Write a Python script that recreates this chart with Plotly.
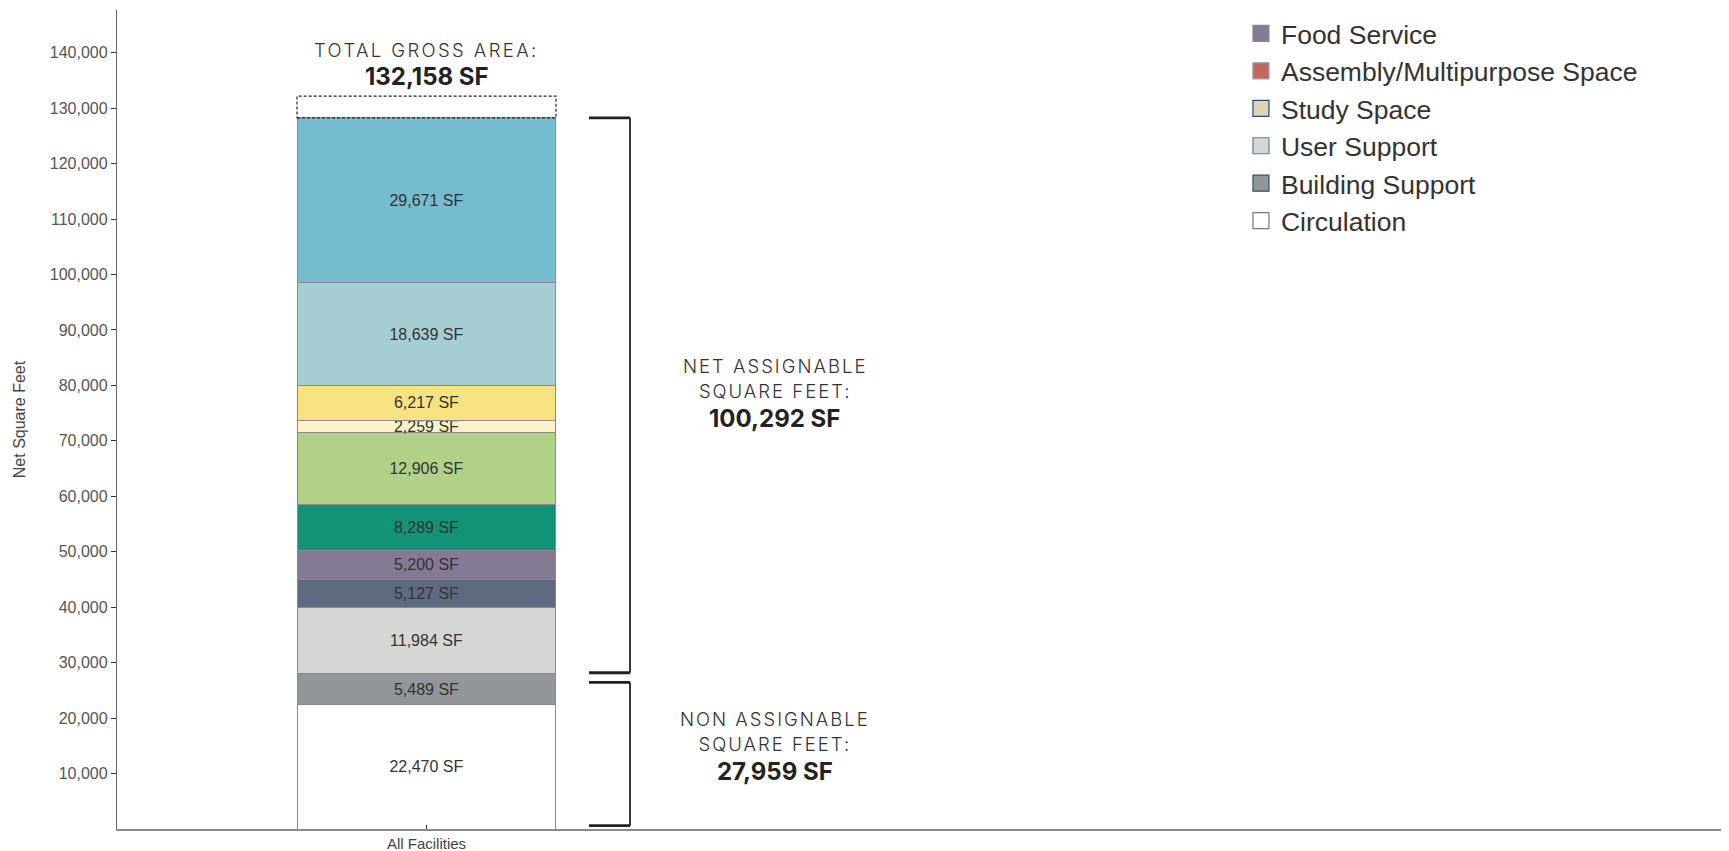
import plotly.graph_objects as go

# ---------------- data ----------------
category = ["All Facilities"]

# stacked segments, bottom to top
seg_names = ["Circulation", "Building Support", "User Support", "Meeting Space",
             "Food Service", "Student Life", "Collections", "Office Support",
             "Office Space", "Instructional Support", "Instructional Space",
             "Study Space", "Assembly/Multipurpose Space", "Athletic"]
seg_values = [22470, 5489, 11984, 5127, 5200, 8289, 12906, 2259, 6217, 18639, 29671,
              0, 0, 0]
seg_colors = ["#FFFFFF", "#939698", "#D6D6D5", "#5E6A80", "#857A93", "#129276",
              "#B1D189", "#FCF3C8", "#F7E382", "#A6CED2", "#76BCCF",
              "#E0D3B6", "#BF6860", "#F7AB4E"]
legend_borders = ["#777777", "#2E4E6E", "#5A7FA0", "#8A8A8A", "#8A8A8A", "#8A8A8A",
                  "#8A8A8A", "#8A8A8A", "#8A8A8A", "#8A8A8A", "#8A8A8A",
                  "#1F4E79", "#9A9A9A", "#9A9A9A"]
non_assignable = ["Circulation", "Building Support"]

# legend order (visible part), top to bottom
legend_order = ["Athletic", "Food Service", "Assembly/Multipurpose Space",
                "Study Space", "User Support", "Building Support", "Circulation"]

total_gross = 132158
y_ticks = list(range(10000, 140001, 10000))

# ---------------- derived ----------------
na_total = sum(v for n, v in zip(seg_names, seg_values) if n in non_assignable)
net_total = sum(v for n, v in zip(seg_names, seg_values) if n not in non_assignable)
stack_top = na_total + net_total

BAR_W = 0.8
FONT = "Liberation Sans"
ANN_FONT = "Inter"

fig = go.Figure()

for n, v, c in zip(seg_names, seg_values, seg_colors):
    fig.add_trace(go.Bar(
        x=category, y=[v], name=n, showlegend=False, legendgroup=n,
        width=BAR_W,
        marker=dict(color=c, line=dict(color="#8A8A8A", width=1 if v > 0 else 0)),
        text=[f"{v:,} SF" if v > 0 else ""],
        textposition="inside", insidetextanchor="middle", textangle=0,
        constraintext="none",
        textfont=dict(family=FONT, size=16, color="#333333"),
        hovertemplate=n + ": %{y:,} SF<extra></extra>",
    ))

# legend-only entries
for n in legend_order:
    i = seg_names.index(n)
    fig.add_trace(go.Scatter(
        x=[None], y=[None], mode="markers", name=n, legendgroup=n,
        marker=dict(symbol="square", size=16, color=seg_colors[i],
                    line=dict(color=legend_borders[i], width=1.2)),
    ))

# dashed gross-area box
fig.add_shape(type="rect", xref="x", yref="y",
              x0=-BAR_W / 2, x1=BAR_W / 2, y0=stack_top, y1=total_gross,
              line=dict(color="#222222", width=1.2, dash="3px,2px"),
              fillcolor="rgba(255,255,255,0)", layer="above")

# brackets
bx0 = BAR_W / 2 + 0.102
bx1 = BAR_W / 2 + 0.2286
brackets = [(na_total + 220, stack_top), (600, na_total - 1530)]
for y0, y1 in brackets:
    for yy in (y0, y1):
        fig.add_shape(type="line", xref="x", yref="y", x0=bx0, x1=bx1, y0=yy, y1=yy,
                      line=dict(color="#222222", width=2.8))
    fig.add_shape(type="line", xref="x", yref="y", x0=bx1, x1=bx1, y0=y0, y1=y1,
                  line=dict(color="#222222", width=1.8))


def light(lines, ls="2px"):
    return "<br>".join(f'<span style="letter-spacing:{ls};font-size:18.5px">{l}</span>'
                       for l in lines)


light_font = dict(family=ANN_FONT, size=19.5, color="#333333", weight=300)
bold_font = dict(family=ANN_FONT, size=24, color="#222222", weight=700)
ann_x = 1.0764

groups = [
    # (x, anchor y, heading lines, number, heading shift, number shift, spacing)
    (ann_x, na_total + net_total / 2, ["NET ASSIGNABLE", "SQUARE FEET:"], net_total, 17.7, -22.8, "2px"),
    (ann_x, na_total / 2, ["NON ASSIGNABLE", "SQUARE FEET:"], na_total, 19.5, -19.9, "2px"),
    (0, total_gross, ["TOTAL GROSS AREA:"], total_gross, 46, 19.2, "2.4px"),
]
for gx, gy, heads, num, s1, s2, ls in groups:
    fig.add_annotation(x=gx, y=gy, xref="x", yref="y", text=light(heads, ls),
                       showarrow=False, yanchor="middle", yshift=s1, font=light_font)
    fig.add_annotation(x=gx, y=gy, xref="x", yref="y", text=f"<b>{num:,} SF</b>",
                       showarrow=False, yanchor="middle", yshift=s2, font=bold_font)

fig.update_layout(
    width=1729, height=851,
    margin=dict(l=109, r=0, t=2, b=30, autoexpand=False),
    barmode="stack",
    plot_bgcolor="white", paper_bgcolor="white",
    showlegend=True,
    legend=dict(x=0.6938, y=0.7128, xanchor="left", yanchor="bottom",
                traceorder="normal", bgcolor="rgba(0,0,0,0)",
                font=dict(family=FONT, size=26.5, color="#333333")),
    uniformtext=dict(minsize=16, mode="show"),
    hovermode="closest",
)
fig.update_xaxes(range=[-0.956, 4.048], showgrid=False, zeroline=False,
                 showline=True, linecolor="#8A8A8A", linewidth=2,
                 ticks="inside", ticklen=4, tickcolor="#333333",
                 tickfont=dict(family=FONT, size=15, color="#444444"))
fig.update_yaxes(range=[0, 147700], showgrid=False, zeroline=False,
                 showline=True, linecolor="#666666", linewidth=1.3,
                 tickvals=y_ticks, tickformat=",",
                 ticks="outside", ticklen=5, tickcolor="#333333",
                 tickfont=dict(family=FONT, size=16, color="#555555"),
                 title=dict(text="Net Square Feet", standoff=20,
                            font=dict(family=FONT, size=16, color="#444444")))

fig.write_html("out.html")
